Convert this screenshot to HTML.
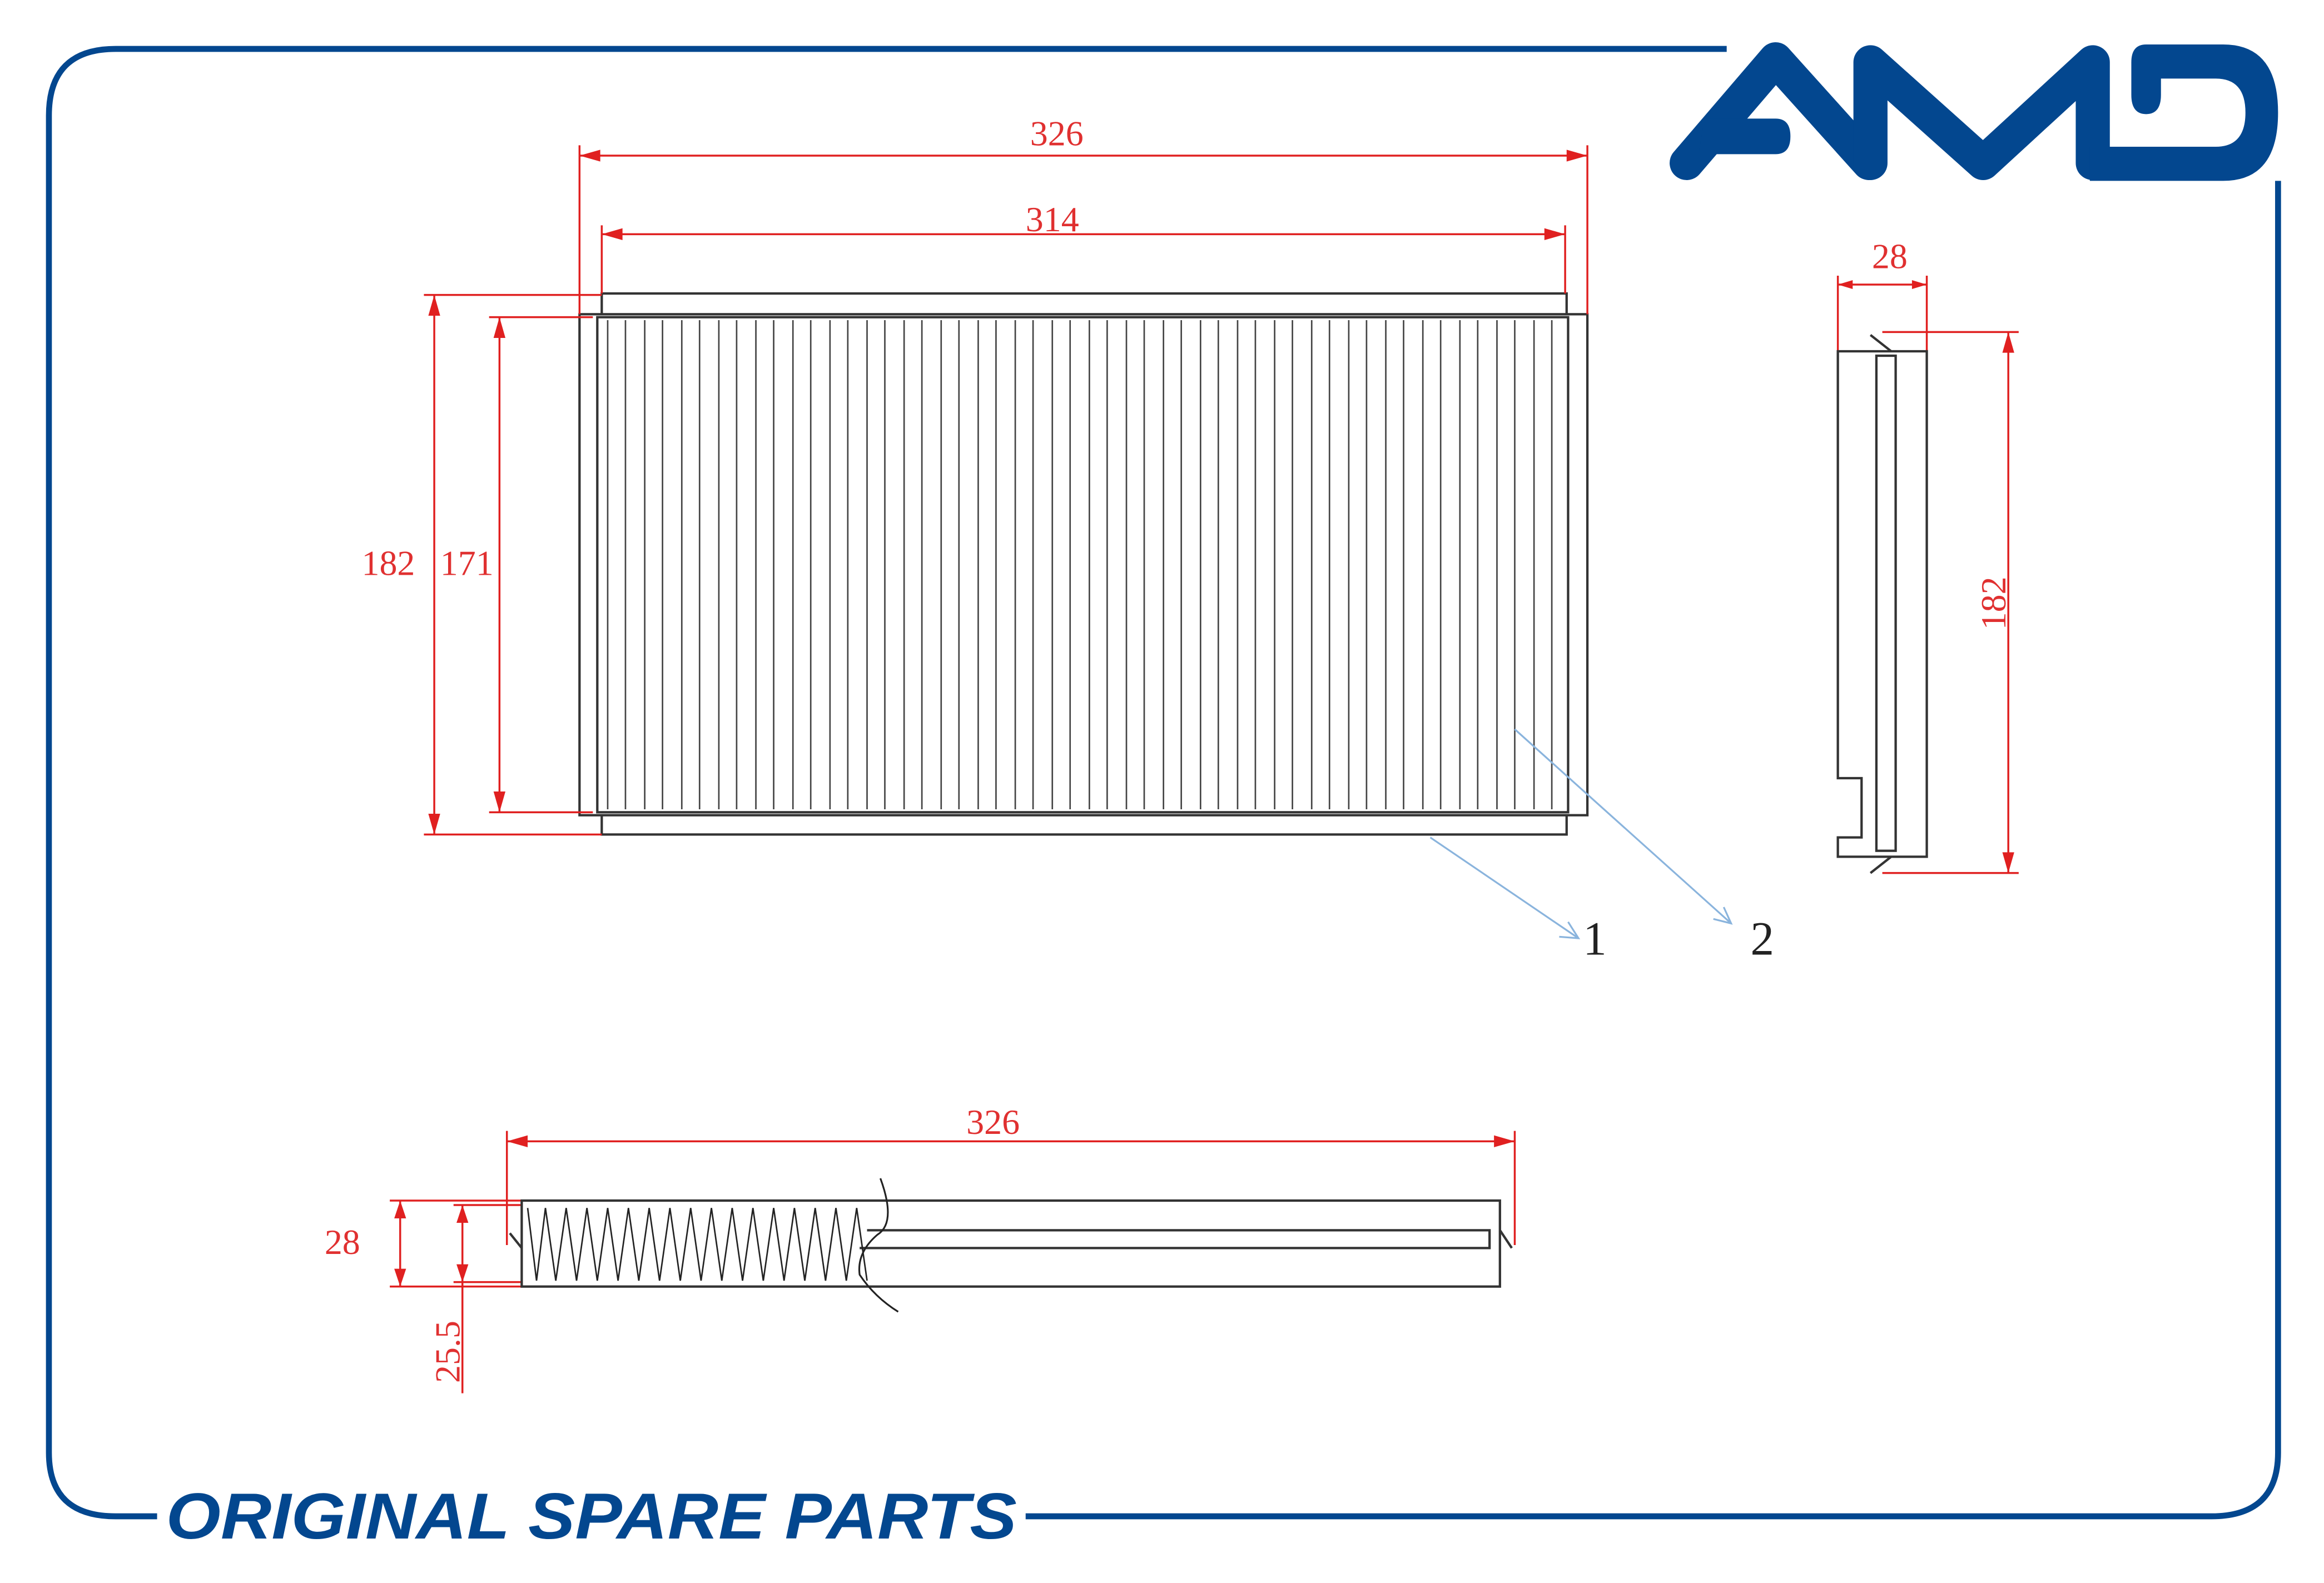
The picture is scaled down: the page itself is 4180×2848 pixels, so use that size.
<!DOCTYPE html>
<html><head><meta charset="utf-8"><style>
html,body{margin:0;padding:0;background:#fff}
svg{display:block}
</style></head><body>
<svg width="4180" height="2848" viewBox="0 0 1568 1068" preserveAspectRatio="none" xmlns="http://www.w3.org/2000/svg">
<rect width="1568" height="1068" fill="#fff"/>
<!-- frame -->
<g fill="none" stroke="#03478f" stroke-width="4">
<path d="M1165,33 L78,33 Q33,33 33,78 L33,980 Q33,1023 78,1023 L106,1023"/>
<path d="M692,1023 L1492,1023 Q1537,1023 1537,980 L1537,122"/>
</g>
<!-- logo -->
<g fill="none" stroke="#03478f" stroke-width="23" stroke-linecap="round" stroke-linejoin="round">
<path d="M1138,110 L1198,40 L1261,110"/>
<path d="M1262,110 L1262,42 L1338,110 L1412,42 L1412,110"/>
</g>
<path fill="#03478f" d="M1150,80 L1198,80 Q1208,80 1208,92 Q1208,104 1198,104 L1146,104 Z"/>
<path fill="#03478f" d="M1410,99 L1410,122 L1500,122 Q1537,122 1537,76 Q1537,30 1500,30 L1448,30 Q1438,30 1438,42 L1438,64 Q1438,77 1448,77 Q1458,77 1458,64 L1458,53 L1495,53 Q1515,53 1515,76 Q1515,99 1495,99 Z"/>
<text x="112" y="1038" font-family="Liberation Sans, sans-serif" font-weight="bold" font-style="italic" font-size="44" fill="#03478f" textLength="574" lengthAdjust="spacingAndGlyphs">ORIGINAL SPARE PARTS</text>
<!-- main drawing -->
<g fill="none" stroke="#333" stroke-width="1.6">
<rect x="391" y="212" width="680" height="338"/>
<rect x="403" y="214" width="655" height="334"/>
<path d="M406,212 L406,198 L1057,198 L1057,212"/>
<path d="M406,550 L406,563 L1057,563 L1057,550"/>
</g>
<g stroke="#444" stroke-width="1">
<path d="M410,216V546M422,216V546M435,216V546M447,216V546M460,216V546M472,216V546M485,216V546M497,216V546M510,216V546M522,216V546M535,216V546M547,216V546M560,216V546M572,216V546M585,216V546M597,216V546M610,216V546M622,216V546M635,216V546M647,216V546M660,216V546M672,216V546M685,216V546M697,216V546M710,216V546M722,216V546M735,216V546M747,216V546M760,216V546M772,216V546M785,216V546M797,216V546M810,216V546M822,216V546M835,216V546M847,216V546M860,216V546M872,216V546M885,216V546M897,216V546M910,216V546M922,216V546M935,216V546M947,216V546M960,216V546M972,216V546M985,216V546M997,216V546M1010,216V546M1022,216V546M1035,216V546M1047,216V546"/>
</g>
<!-- red dims main -->
<g stroke="#e02020" stroke-width="1.3" fill="none">
<path d="M391,98V212 M1071,98V212 M391,105H1071"/>
<path d="M406,152V198 M1056,152V198 M406,158H1056"/>
<path d="M286,199H406 M286,563H406 M293,199V563"/>
<path d="M330,214H400 M330,548H400 M337,214V548"/>
<path d="M1240,186V237 M1300,186V237 M1240,192H1300"/>
<path d="M1270,224H1362 M1270,589H1362 M1355,224V589"/>
<path d="M342,763V840 M1022,763V840 M342,770H1022"/>
<path d="M263,810H352 M263,868H352 M270,810V868"/>
<path d="M306,813H352 M306,865H352 M312,813V940"/>
</g>
<g fill="#e02020">
<path d="M391,105l14,-4v8z M1071,105l-14,-4v8z"/>
<path d="M406,158l14,-4v8z M1056,158l-14,-4v8z"/>
<path d="M293,199l-4,14h8z M293,563l-4,-14h8z"/>
<path d="M337,214l-4,14h8z M337,548l-4,-14h8z"/>
<path d="M1240,192l10,-3v6z M1300,192l-10,-3v6z"/>
<path d="M1355,224l-4,14h8z M1355,589l-4,-14h8z"/>
<path d="M342,770l14,-4v8z M1022,770l-14,-4v8z"/>
<path d="M270,810l-4,12h8z M270,868l-4,-12h8z"/>
<path d="M312,813l-4,12h8z M312,865l-4,-12h8z"/>
</g>
<g font-family="Liberation Serif, serif" font-size="24" fill="#e03030">
<text x="713" y="98" text-anchor="middle">326</text>
<text x="710" y="156" text-anchor="middle">314</text>
<text x="262" y="388" text-anchor="middle">182</text>
<text x="315" y="388" text-anchor="middle">171</text>
<text x="1275" y="181" text-anchor="middle">28</text>
<text transform="translate(1353,407) rotate(-90)" text-anchor="middle">182</text>
<text x="670" y="765" text-anchor="middle">326</text>
<text x="231" y="846" text-anchor="middle">28</text>
<text transform="translate(310,912) rotate(-90)" text-anchor="middle">25.5</text>
</g>
<!-- side view -->
<g fill="none" stroke="#333" stroke-width="1.6">
<path d="M1240,237 L1300,237 L1300,578 L1240,578 L1240,565 L1256,565 L1256,525 L1240,525 Z"/>
<rect x="1266" y="240" width="13" height="334"/>
<path d="M1262,226 L1276,237 M1262,589 L1276,578"/>
</g>
<!-- bottom view -->
<g fill="none" stroke="#333" stroke-width="1.6">
<rect x="352" y="810" width="660" height="58"/>
<path d="M585,830 L1005,830 L1005,842 L580,842"/>
<path d="M352,842 L344,832 M1012,830 L1020,842"/>
</g>
<path fill="none" stroke="#222" stroke-width="1" d="M356,815 L362,864 L368,815 L375,864 L382,815 L389,864 L396,815 L403,864 L410,815 L417,864 L424,815 L431,864 L438,815 L445,864 L452,815 L459,864 L466,815 L473,864 L480,815 L487,864 L494,815 L501,864 L508,815 L515,864 L522,815 L529,864 L536,815 L543,864 L550,815 L557,864 L564,815 L571,864 L578,815 L585,864"/>
<path fill="none" stroke="#222" stroke-width="1.2" d="M594,795 Q605,825 592,833 Q578,845 580,860 Q590,875 606,885"/>
<!-- callouts -->
<g stroke="#8ab4dd" stroke-width="1.2" fill="none">
<path d="M965,565 L1065,633 M1058,622 L1065,633 L1052,632"/>
<path d="M1022,492 L1168,623 M1163,612 L1168,623 L1156,620"/>
</g>
<g font-family="Liberation Serif, serif" font-size="32" fill="#222">
<text x="1068" y="644">1</text>
<text x="1181" y="644">2</text>
</g>
</svg>
</body></html>
